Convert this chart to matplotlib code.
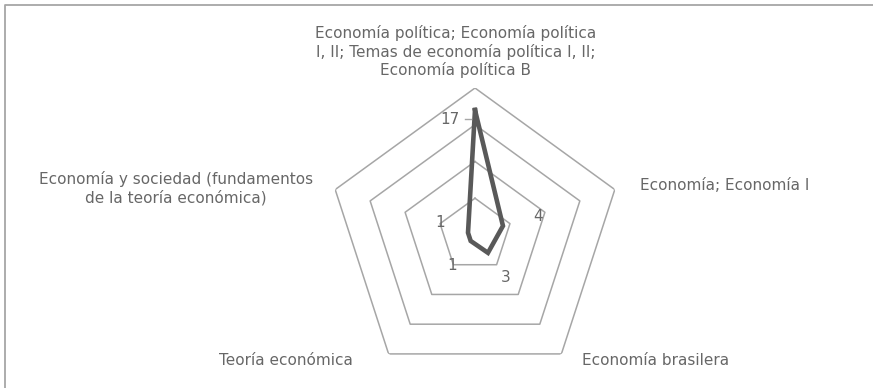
import numpy as np
import matplotlib
matplotlib.use("Agg")
import matplotlib.pyplot as plt
from matplotlib.lines import Line2D

# categories, clockwise from the top
categories = [
    "Economía política; Economía política\nI, II; Temas de economía política I, II;\nEconomía política B",
    "Economía; Economía I",
    "Economía brasilera",
    "Teoría económica",
    "Economía y sociedad (fundamentos\nde la teoría económica)",
]
values = [17, 4, 3, 1, 1]
rings = [5, 10, 15, 20]

TEXT = "#676767"
GRID = "#a6a6a6"
plt.rcParams["font.family"] = ["DejaVu Sans"]

fig = plt.figure(figsize=(8.73, 3.88), dpi=100)
ax = fig.add_axes([0.3757, 0.0155, 0.3368, 0.7577], projection="polar")
ax.set_theta_offset(np.pi / 2)
ax.set_theta_direction(-1)
ax.set_ylim(0, rings[-1])
ax.axis("off")

n = len(categories)
angles = np.linspace(0, 2 * np.pi, n, endpoint=False)
closed = np.append(angles, angles[0])

# pentagon grid
for r in rings:
    ax.plot(closed, [r] * (n + 1), color=GRID, lw=1.1, zorder=1)

# data polygon
ax.plot(closed, values + values[:1], color="#595959", lw=3.3,
        solid_joinstyle="miter", zorder=3)

# category labels (offsets in points from each outer vertex)
cat_pos = [(-14, 7, "center", "bottom"),
           (18, 3, "left", "center"),
           (15, -5, "left", "center"),
           (-26, -5, "right", "center"),
           (-16, 1, "right", "center")]
for ang, lab, (dx, dy, ha, va) in zip(angles, categories, cat_pos):
    ax.annotate(lab, xy=(ang, rings[-1]), xytext=(dx, dy), textcoords="offset points",
                ha=ha, va=va, multialignment="center", fontsize=11,
                color=TEXT, linespacing=1.2, annotation_clip=False)

# value labels
val_pos = [(-18, -7), (25, 7), (13, -18), (-13, -18), (-20, 7)]
for ang, v, (dx, dy) in zip(angles, values, val_pos):
    ax.annotate(str(v), xy=(ang, v), xytext=(dx, dy), textcoords="offset points",
                ha="center", va="center", fontsize=11,
                color=TEXT, annotation_clip=False)
# small leader next to the top value label
fig.add_artist(Line2D([465 / 873, 471 / 873], [1 - 119 / 388] * 2, color=GRID, lw=1))

# chart border (left and top edges)
fig.add_artist(Line2D([4.5 / 873, 4.5 / 873, 1], [0, 1 - 4.5 / 388, 1 - 4.5 / 388],
                      color="#a6a6a6", lw=1.3))

fig.savefig("out.png", dpi=100)
